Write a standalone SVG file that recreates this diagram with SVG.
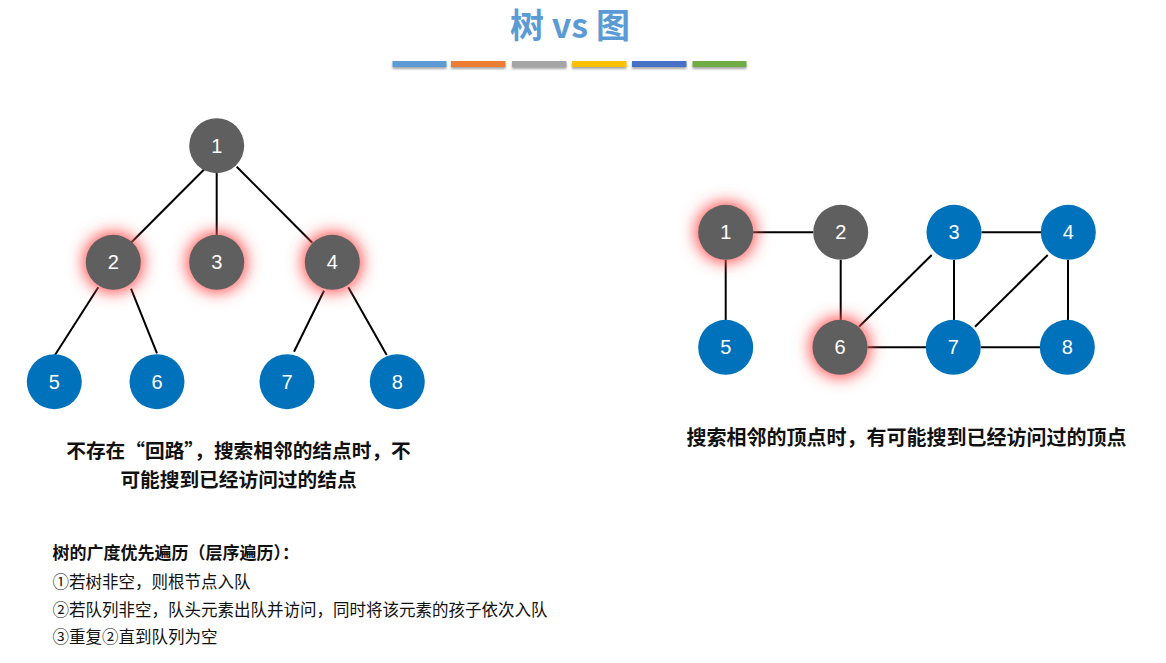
<svg xmlns="http://www.w3.org/2000/svg" width="1166" height="663" viewBox="0 0 1166 663">
<style>
.edge{stroke:#000;stroke-width:2;fill:none}
.gray{fill:#5f5f5f}
.blue{fill:#0071bb}
.lbl{font-family:"Liberation Sans",Arial,sans-serif;font-size:20px;fill:#fff;text-anchor:middle}
.glow{fill:#ff4d4d;filter:url(#blur)}
.cap{font-family:"Noto Sans CJK SC",sans-serif;font-weight:bold;font-size:19.7px;fill:#111}
.body{font-family:"Noto Sans CJK SC",sans-serif;font-size:16.5px;fill:#111}
.bar{filter:url(#shadow)}
</style>
<defs>
<filter id="blur" x="-1" y="-1" width="3" height="3"><feGaussianBlur stdDeviation="8"/></filter>
<filter id="shadow" x="-0.2" y="-1" width="1.4" height="3"><feDropShadow dx="0" dy="2" stdDeviation="1.2" flood-color="#000" flood-opacity="0.35"/></filter>
</defs>
<rect width="1166" height="663" fill="#fff"/>
<g id="title">
<text x="570" y="38" text-anchor="middle" font-family="'Noto Sans CJK SC',sans-serif" font-weight="bold" font-size="34" fill="#5b9bd5">树 vs 图</text>
<rect class="bar" x="392.5" y="61" width="54" height="6" fill="#5b9bd5"/>
<rect class="bar" x="451" y="61" width="54.5" height="6" fill="#ed7d31"/>
<rect class="bar" x="512" y="61" width="54.5" height="6" fill="#a5a5a5"/>
<rect class="bar" x="572" y="61" width="54.5" height="6" fill="#ffc000"/>
<rect class="bar" x="632" y="61" width="54.5" height="6" fill="#4472c4"/>
<rect class="bar" x="692.5" y="61" width="54" height="6" fill="#70ad47"/>
</g>
<g id="connectors">
<line class="edge" x1="204.3" y1="169.3" x2="131" y2="242.7"/>
<line class="edge" x1="216.7" y1="173" x2="216.7" y2="235"/>
<line class="edge" x1="236.7" y1="166.7" x2="312.3" y2="242.7"/>
<line class="edge" x1="98.3" y1="287.3" x2="55" y2="355"/>
<line class="edge" x1="131" y1="288.7" x2="157" y2="353.3"/>
<line class="edge" x1="324" y1="290.7" x2="294" y2="351.7"/>
<line class="edge" x1="348.3" y1="287.3" x2="386.7" y2="355"/>
<line class="edge" x1="753" y1="232.3" x2="813" y2="232.3"/>
<line class="edge" x1="725.7" y1="260" x2="725.7" y2="320"/>
<line class="edge" x1="840.7" y1="260" x2="840.7" y2="320"/>
<line class="edge" x1="981.5" y1="232.3" x2="1041" y2="232.3"/>
<line class="edge" x1="954" y1="260" x2="954" y2="320"/>
<line class="edge" x1="1068" y1="260" x2="1068" y2="320"/>
<line class="edge" x1="867.5" y1="347.3" x2="926" y2="347.3"/>
<line class="edge" x1="981" y1="347.3" x2="1040" y2="347.3"/>
<line class="edge" x1="931.7" y1="255" x2="859" y2="326.7"/>
<line class="edge" x1="1047.7" y1="255" x2="975" y2="326.7"/>
</g>
<g id="t1"><circle class="gray" cx="216.7" cy="145.7" r="27.5"/><text class="lbl" x="216.7" y="152.7">1</text></g>
<g id="t2"><circle class="glow" cx="113.3" cy="262.3" r="30"/><circle class="gray" cx="113.3" cy="262.3" r="27.5"/><text class="lbl" x="113.3" y="269.3">2</text></g>
<g id="t3"><circle class="glow" cx="216.7" cy="262.3" r="30"/><circle class="gray" cx="216.7" cy="262.3" r="27.5"/><text class="lbl" x="216.7" y="269.3">3</text></g>
<g id="t4"><circle class="glow" cx="332.3" cy="262.3" r="30"/><circle class="gray" cx="332.3" cy="262.3" r="27.5"/><text class="lbl" x="332.3" y="269.3">4</text></g>
<g id="t5"><circle class="blue" cx="54.3" cy="381.7" r="27.5"/><text class="lbl" x="54.3" y="388.7">5</text></g>
<g id="t6"><circle class="blue" cx="157" cy="381.7" r="27.5"/><text class="lbl" x="157" y="388.7">6</text></g>
<g id="t7"><circle class="blue" cx="287" cy="381.7" r="27.5"/><text class="lbl" x="287" y="388.7">7</text></g>
<g id="t8"><circle class="blue" cx="397.3" cy="381.7" r="27.5"/><text class="lbl" x="397.3" y="388.7">8</text></g>
<g id="g1"><circle class="glow" cx="725.7" cy="232.3" r="30"/><circle class="gray" cx="725.7" cy="232.3" r="27.5"/><text class="lbl" x="725.7" y="239.3">1</text></g>
<g id="g2"><circle class="gray" cx="840.7" cy="232.3" r="27.5"/><text class="lbl" x="840.7" y="239.3">2</text></g>
<g id="g3"><circle class="blue" cx="954" cy="232.3" r="27.5"/><text class="lbl" x="954" y="239.3">3</text></g>
<g id="g4"><circle class="blue" cx="1068.3" cy="232.3" r="27.5"/><text class="lbl" x="1068.3" y="239.3">4</text></g>
<g id="g5"><circle class="blue" cx="725.7" cy="347.3" r="27.5"/><text class="lbl" x="725.7" y="354.3">5</text></g>
<g id="g6"><circle class="glow" cx="840" cy="347.3" r="30"/><circle class="gray" cx="840" cy="347.3" r="27.5"/><text class="lbl" x="840" y="354.3">6</text></g>
<g id="g7"><circle class="blue" cx="953.3" cy="347.3" r="27.5"/><text class="lbl" x="953.3" y="354.3">7</text></g>
<g id="g8"><circle class="blue" cx="1067.3" cy="347.3" r="27.5"/><text class="lbl" x="1067.3" y="354.3">8</text></g>
<g id="tree-caption">
<text class="cap" x="238.5" y="458" text-anchor="middle">不存在“回路”，搜索相邻的结点时，不</text>
<text class="cap" x="238.5" y="487" text-anchor="middle">可能搜到已经访问过的结点</text>
</g>
<g id="graph-caption">
<text class="cap" x="906.6" y="445" text-anchor="middle" style="font-size:20px">搜索相邻的顶点时，有可能搜到已经访问过的顶点</text>
</g>
<g id="bfs-text">
<text class="body" x="52.5" y="559" font-weight="bold" style="font-size:17px">树的广度优先遍历（层序遍历）：</text>
<text class="body" x="52.5" y="588">①若树非空，则根节点入队</text>
<text class="body" x="52.5" y="616">②若队列非空，队头元素出队并访问，同时将该元素的孩子依次入队</text>
<text class="body" x="52.5" y="643">③重复②直到队列为空</text>
</g>
</svg>
